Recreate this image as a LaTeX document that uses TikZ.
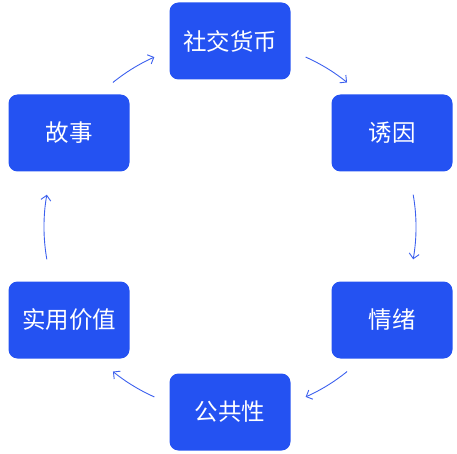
\documentclass[tikz,border=0pt]{standalone}
\usepackage{fontspec}
\usepackage{xcolor}
\usetikzlibrary{arrows.meta}
\newfontfamily\cjk{Noto Sans CJK SC}
\definecolor{boxblue}{RGB}{36,82,242}
\definecolor{arrowblue}{RGB}{60,96,238}

\begin{document}
\begin{tikzpicture}[x=1pt, y=1pt,
		stage/.style={draw=none, fill=boxblue, rounded corners=9pt, minimum width=121pt, minimum height=77pt, text=white, font=\cjk\fontsize{23.5}{23.5}\selectfont},
		flow/.style={arrowblue, line width=0.9pt, -{Straight Barb[length=5pt, width=10pt]}}]
	\useasboundingbox (0,0) rectangle (457,453);
	\coordinate (o) at (230,226);

	% Stages
	\node[stage] (social) at (230,412) {社交货币};
	\node[stage] (trigger) at (392,320) {诱因};
	\node[stage] (emotion) at (392,133) {情绪};
	\node[stage] (public) at (230,41) {公共性};
	\node[stage] (value) at (69,133) {实用价值};
	\node[stage] (story) at (69,320) {故事};

	% Arrows along the cycle
	\draw[flow] (o) ++(129:186) arc[start angle=129, end angle=114, radius=186];
	\draw[flow] (o) ++(66:186) arc[start angle=66, end angle=51, radius=186];
	\draw[flow] (o) ++(10:186) arc[start angle=10, end angle=-10, radius=186];
	\draw[flow] (o) ++(-51:186) arc[start angle=-51, end angle=-66, radius=186];
	\draw[flow] (o) ++(-114:186) arc[start angle=-114, end angle=-129, radius=186];
	\draw[flow] (o) ++(190:186) arc[start angle=190, end angle=170, radius=186];
\end{tikzpicture}
\end{document}
